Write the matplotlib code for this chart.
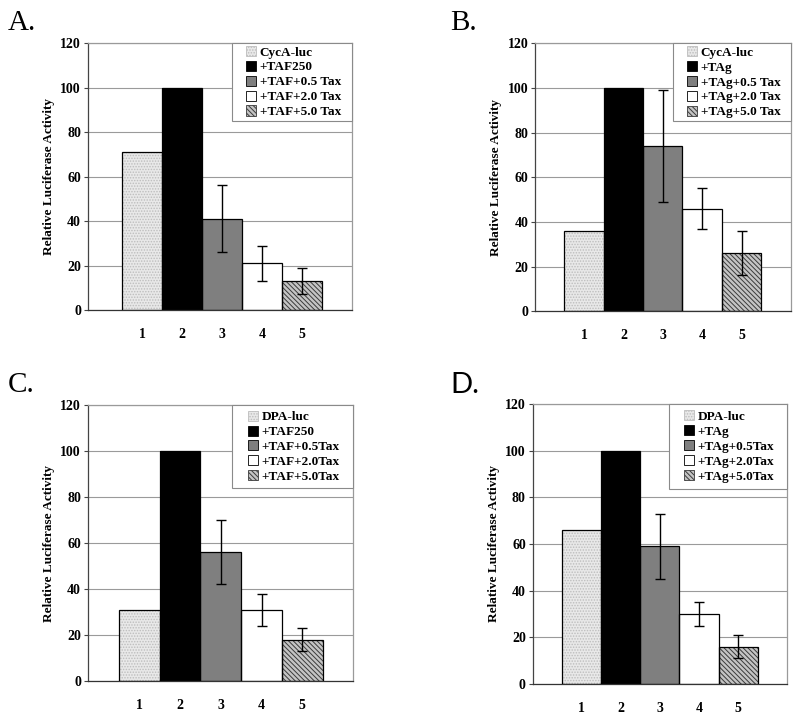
import matplotlib
matplotlib.use("Agg")
import matplotlib.pyplot as plt
from matplotlib.patches import Patch, Rectangle
import numpy as np

# ---------------- data ----------------
categories = ["1", "2", "3", "4", "5"]

vals_A = [71, 100, 41, 21, 13]
err_A = [0, 0, 15, 8, 6]
labels_A = ["CycA-luc", "+TAF250", "+TAF+0.5 Tax", "+TAF+2.0 Tax", "+TAF+5.0 Tax"]

vals_B = [36, 100, 74, 46, 26]
err_B = [0, 0, 25, 9, 10]
labels_B = ["CycA-luc", "+TAg", "+TAg+0.5 Tax", "+TAg+2.0 Tax", "+TAg+5.0 Tax"]

vals_C = [31, 100, 56, 31, 18]
err_C = [0, 0, 14, 7, 5]
labels_C = ["DPA-luc", "+TAF250", "+TAF+0.5Tax", "+TAF+2.0Tax", "+TAF+5.0Tax"]

vals_D = [66, 100, 59, 30, 16]
err_D = [0, 0, 14, 5, 5]
labels_D = ["DPA-luc", "+TAg", "+TAg+0.5Tax", "+TAg+2.0Tax", "+TAg+5.0Tax"]

yticks = [0, 20, 40, 60, 80, 100, 120]
ylabel = "Relative Luciferase Activity"
panel_letters = ["A.", "B.", "C.", "D."]

# ---------------- styles ----------------
faces = ["#e8e8e8", "#000000", "#7f7f7f", "#ffffff", "#c4c4c4"]
hatches = ["......", None, None, None, "\\\\\\\\\\\\\\"]
hatch_cols = ["#bdbdbd", "#000000", "#7f7f7f", "#ffffff", "#3a3a3a"]

plt.rcParams["hatch.linewidth"] = 0.7
SERIF = ["Liberation Serif", "DejaVu Serif"]

fig = plt.figure(figsize=(8.0, 7.22), dpi=100)

panels = [
    # vals, err, labels, axes rect, xlim, legend box (x0, y0) in axes frac, letter pos, letter font
    (vals_A, err_A, labels_A, [0.110, 0.5706, 0.330, 0.3698], (-0.35, 6.25), (0.545, 0.708), (8, 30), SERIF),
    (vals_B, err_B, labels_B, [0.669, 0.569, 0.320, 0.371], (-0.24, 6.26), (0.540, 0.709), (450, 30), SERIF),
    (vals_C, err_C, labels_C, [0.110, 0.0568, 0.331, 0.382], (-0.26, 6.24), (0.543, 0.699), (8, 392), SERIF),
    (vals_D, err_D, labels_D, [0.666, 0.0526, 0.3175, 0.388], (-0.24, 6.24), (0.535, 0.696), (450, 393), ["Lato", "DejaVu Sans"]),
]

x = np.arange(1, len(categories) + 1)

for k, (vals, err, labels, rect, xlim, lbox, lpos, lfont) in enumerate(panels):
    ax = fig.add_axes(rect)
    ax.set_axisbelow(True)
    ax.yaxis.grid(True, color="#9a9a9a", linewidth=0.8)
    for i in range(len(x)):
        ax.bar(x[i], vals[i], width=1.0, color=faces[i], edgecolor=hatch_cols[i],
               hatch=hatches[i], linewidth=0, zorder=2)
        ax.bar(x[i], vals[i], width=1.0, fill=False, edgecolor="black",
               linewidth=0.9, zorder=3)
    e = np.array(err)
    m = e > 0
    ax.errorbar(x[m], np.array(vals)[m], yerr=e[m], fmt="none", ecolor="black",
                elinewidth=1.0, capsize=3.5, capthick=1.0, zorder=4)

    ax.set_xlim(*xlim)
    ax.set_ylim(0, 120)
    ax.set_yticks(yticks)
    ax.set_yticklabels([str(t) for t in yticks], fontfamily=SERIF,
                       fontweight="bold", fontsize=10)
    ax.set_xticks(x)
    ax.set_xticklabels(categories, fontfamily=SERIF, fontweight="bold", fontsize=10)
    ax.tick_params(axis="x", length=0, pad=13)
    ax.tick_params(axis="y", length=3, width=0.8, color="#444444", pad=2)
    ax.set_ylabel(ylabel, fontfamily=SERIF, fontweight="bold", fontsize=9.5, labelpad=4)

    ax.spines["left"].set_color("#444444")
    ax.spines["bottom"].set_color("#333333")
    ax.spines["top"].set_color("#9a9a9a")
    ax.spines["right"].set_color("#9a9a9a")
    for s in ax.spines.values():
        s.set_linewidth(0.9)

    # legend box (white, gray frame) with centred legend contents
    x0, y0 = lbox
    ax.add_patch(Rectangle((x0, y0), 1.0 - x0, 1.0 - y0, transform=ax.transAxes,
                           facecolor="white", edgecolor="#8a8a8a", linewidth=0.8,
                           zorder=5, clip_on=False))
    handles = [Patch(facecolor=faces[i], edgecolor=hatch_cols[i] if hatches[i] else "black",
                     hatch=hatches[i], linewidth=0.6)
               for i in range(len(x))]
    leg = ax.legend(handles, labels, loc="center",
                    bbox_to_anchor=((x0 + 1.0) / 2 + 0.005, (y0 + 1.0) / 2),
                    borderaxespad=0, frameon=False,
                    handlelength=0.8, handleheight=0.8,
                    handletextpad=0.25, labelspacing=0.17, borderpad=0.0,
                    prop={"family": SERIF, "weight": "bold", "size": 9.5})
    leg.set_zorder(6)

    fig.text(lpos[0] / 800, 1 - lpos[1] / 722, panel_letters[k], fontsize=21,
             fontfamily=lfont, ha="left", va="baseline")

fig.savefig("out.png", dpi=100)
